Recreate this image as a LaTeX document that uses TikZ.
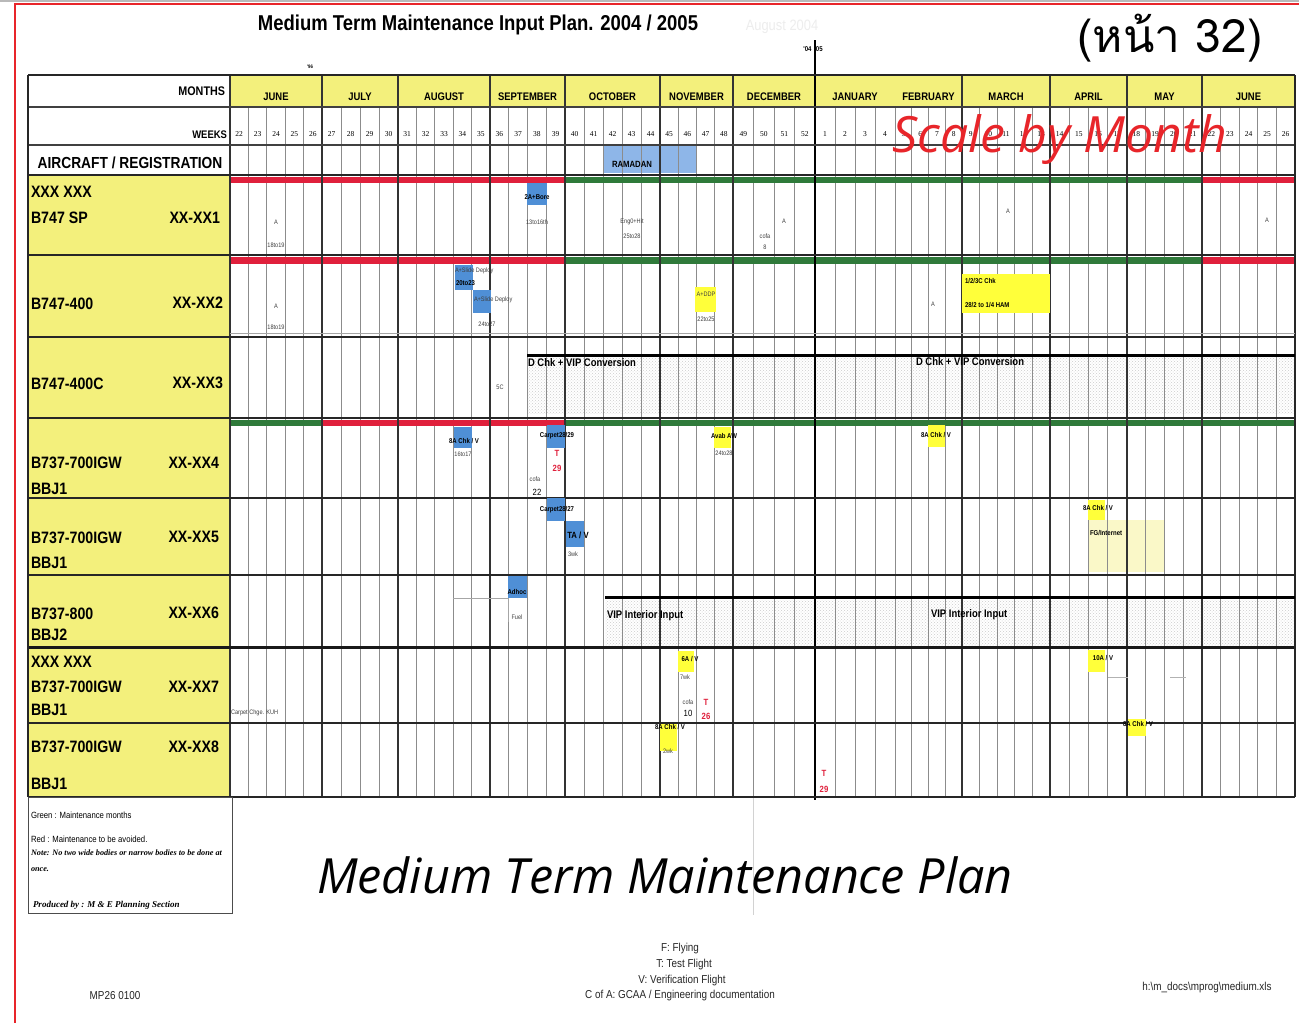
\documentclass[tikz,border=0pt]{standalone}
\usepackage{fontspec}
\setmainfont{Liberation Sans}
\newfontfamily\nar[FakeStretch=0.86]{Liberation Sans}
\newfontfamily\serifw{Liberation Serif}
\newfontfamily\thaifont[Script=Thai]{Loma}
\newfontfamily\osans{Open Sans}
\usetikzlibrary{patterns}
\definecolor{cyel}{HTML}{F3F07C}
\definecolor{cyelb}{HTML}{FFFF3A}
\definecolor{cyell}{HTML}{FAF8C8}
\definecolor{cblue}{HTML}{4F8FD6}
\definecolor{cram}{HTML}{8EB6E8}
\definecolor{cred}{HTML}{E0203C}
\definecolor{cgreen}{HTML}{2F7A3A}
\definecolor{cframe}{HTML}{E8252A}
\definecolor{cgrid}{HTML}{8C8C8C}
\begin{document}
\begin{tikzpicture}[x=1pt,y=-1pt,
  every node/.style={inner sep=0pt, outer sep=0pt},
  wk/.style={font=\serifw\fontsize{7.5}{8}\selectfont},
  mon/.style={font=\nar\bfseries\fontsize{11}{12}\selectfont},
  lab/.style={font=\nar\bfseries\fontsize{16.5}{18}\selectfont, anchor=west},
  reg/.style={font=\nar\bfseries\fontsize{16.5}{18}\selectfont, anchor=east},
  tb/.style={font=\nar\bfseries\fontsize{7}{8}\selectfont},
  tn/.style={font=\nar\fontsize{6.5}{7}\selectfont, text=black!75},
  redt/.style={font=\nar\bfseries\fontsize{9}{10}\selectfont, text=cred},
  bar/.style={font=\nar\bfseries\fontsize{11}{12}\selectfont},
  leg/.style={font=\nar\fontsize{9}{10}\selectfont, anchor=west},
  legi/.style={font=\serifw\bfseries\itshape\fontsize{8.2}{9}\selectfont, anchor=west},
  foot/.style={font=\nar\fontsize{11.5}{12}\selectfont, text=black!85},
  bluebox/.style={fill=cblue},
  ybox/.style={fill=cyelb},
  weekline/.style={draw=cgrid, line width=0.8},
  monline/.style={draw=black!80, line width=1.6},
  rowline/.style={draw=black!85, line width=2.2},
  hdrline/.style={draw=black!75, line width=1.2},
  dotsfill/.style={pattern=crosshatch dots, pattern color=gray!40}
]
\useasboundingbox (0,0) rectangle (1299,1023);
\fill[white] (0,0) rectangle (1299,1023);
% frame
\fill[gray!55] (0,0) rectangle (1299,2);
\draw[cframe, line width=2] (15,1023) -- (15,3.5) -- (1299,3.5);

% titles
\node[font=\nar\bfseries\fontsize{21.5}{24}\selectfont] (title) at (478,25) {Medium Term Maintenance Input Plan. 2004 / 2005};
\node[font=\nar\fontsize{15}{16}\selectfont, text=black!7] (ghost) at (782,27) {August 2004};
\node[font=\thaifont\fontsize{46}{50}\selectfont] (page) at (1170,38) {(หน้า 32)};
\node[font=\nar\bfseries\fontsize{7}{8}\selectfont] (yr) at (813,49) {'04\hspace{3pt}'05};
\node[font=\nar\bfseries\fontsize{5}{6}\selectfont] (t96) at (310,67) {'96};

% fills
\fill[cyel] (230,75) rectangle (1295,107);
\fill[cyel] (28,175) rectangle (230,797);
\fill[cram] (604,145) rectangle (696,173);
\fill[dotsfill] (527,357) rectangle (1295,413);
\fill[dotsfill] (605,600) rectangle (1295,645);
\fill[cyell] (1088,520) rectangle (1165,572);

% weeks and months
\foreach \a/\b/\n/\f/\mname in {230/322/5/22/JUNE, 322/398/4/27/JULY, 398/490/5/31/AUGUST, 490/565/4/36/SEPTEMBER, 565/660/5/40/OCTOBER, 660/733/4/45/NOVEMBER, 733/815/4/49/DECEMBER, 815/895/4/1/JANUARY, 895/962/4/5/FEBRUARY, 962/1050/5/9/MARCH, 1050/1127/4/14/APRIL, 1127/1202/4/18/MAY, 1202/1295/5/22/JUNE}{
  \pgfmathsetmacro\w{(\b-\a)/\n}
  \foreach \k in {1,...,\n}{
    \pgfmathsetmacro\xx{\a+\w*\k}
    \pgfmathsetmacro\xc{\a+\w*(\k-0.5)}
    \pgfmathtruncatemacro\wn{\f+\k-1}
    \draw[weekline] (\xx,107) -- (\xx,797);
    \node[wk] (wk-\a-\k) at (\xc,134) {\wn};
  }
  \node[mon] (mn-\a) at ({(\a+\b)/2},97) {\mname};
}

% colour strips
\fill[cred] (230,177) rectangle (565,183);
\fill[cgreen] (565,177) rectangle (1202,183);
\fill[cred] (1202,177) rectangle (1295,183);
\fill[cred] (230,257) rectangle (565,264);
\fill[cgreen] (565,257) rectangle (1202,264);
\fill[cred] (1202,257) rectangle (1295,264);
\fill[cgreen] (230,420) rectangle (322,426);
\fill[cred] (322,420) rectangle (565,426);
\fill[cgreen] (565,420) rectangle (1295,426);

% month lines
\foreach \x in {230,322,398,490,565,660,733,962,1050,1127,1202}
  \draw[monline] (\x,75) -- (\x,797);
\draw[black, line width=1.8] (815,40) -- (815,800);
\draw[gray!35, line width=0.8] (753,797) -- (753,915);

% row lines
\foreach \y in {175,255,337,418,498,575,723}
  \draw[rowline] (28,\y) -- (1295,\y);
\draw[rowline] (28,75) -- (1295,75);
\draw[hdrline] (28,107) -- (1295,107);
\draw[hdrline] (28,145) -- (1295,145);
\draw[black!90, line width=3] (28,647) -- (1295,647);
\draw[rowline] (28,797) -- (1295,797);
\draw[rowline] (28,75) -- (28,797);
\draw[rowline] (1295,75) -- (1295,797);
\draw[gray!70, line width=0.8] (230,333) -- (1295,333);

% bars
\draw[black, line width=3] (527,355) -- (1295,355);
\draw[black, line width=3] (605,597) -- (1295,597);
\draw[gray!70, line width=1] (453,598) -- (508,598) -- (508,622);
\draw[gray!60, line width=1] (1108,677) -- (1128,677);
\draw[gray!60, line width=1] (1170,677) -- (1186,677);

% header labels
\node[font=\nar\bfseries\fontsize{12.5}{14}\selectfont, anchor=east] (months) at (225,91) {MONTHS};
\node[font=\nar\bfseries\fontsize{11}{12}\selectfont, anchor=east] (weeks) at (227,135) {WEEKS};
\node[font=\nar\bfseries\fontsize{16}{17}\selectfont] (acreg) at (130,163) {AIRCRAFT / REGISTRATION};
\node[font=\nar\bfseries\fontsize{9}{10}\selectfont] (ramadan) at (632,164) {RAMADAN};

% aircraft labels
\node[lab] (r1a) at (31,192) {XXX XXX};
\node[lab] (r1b) at (31,218) {B747 SP};
\node[reg] (r1c) at (220,218) {XX-XX1};
\node[lab] (r2b) at (31,304) {B747-400};
\node[reg] (r2c) at (223,303) {XX-XX2};
\node[lab] (r3b) at (31,384) {B747-400C};
\node[reg] (r3c) at (223,383) {XX-XX3};
\node[lab] (r4b) at (31,463) {B737-700IGW};
\node[reg] (r4c) at (219,463) {XX-XX4};
\node[lab] (r4d) at (31,489) {BBJ1};
\node[lab] (r5b) at (31,538) {B737-700IGW};
\node[reg] (r5c) at (219,537) {XX-XX5};
\node[lab] (r5d) at (31,563) {BBJ1};
\node[lab] (r6b) at (31,614) {B737-800};
\node[reg] (r6c) at (219,613) {XX-XX6};
\node[lab] (r6d) at (31,635) {BBJ2};
\node[lab] (r7a) at (31,662) {XXX XXX};
\node[lab] (r7b) at (31,687) {B737-700IGW};
\node[reg] (r7c) at (219,687) {XX-XX7};
\node[lab] (r7d) at (31,710) {BBJ1};
\node[lab] (r8b) at (31,747) {B737-700IGW};
\node[reg] (r8c) at (219,747) {XX-XX8};
\node[lab] (r8d) at (31,784) {BBJ1};

% row 1
\fill[bluebox] (527,183) rectangle (547,205);
\node[tb] (a1) at (537,197) {2A+Bore};
\node[tn] (a2) at (537,222) {13to16th};
\node[tn] (a3) at (632,222) {Eng0+Hit};
\node[tn] (a4) at (632,236) {25to28};
\node[tn] (a5) at (276,222) {A};
\node[tn] (a6) at (276,245) {18to19};
\node[tn] (a7) at (765,236) {cofa};
\node[tn] (a8) at (765,247) {8};
\node[tn] (a9) at (784,221) {A};
\node[tn] (a10) at (1008,211) {A};
\node[tn] (a11) at (1267,220) {A};

% row 2
\fill[bluebox] (455,265) rectangle (473,290);
\fill[bluebox] (473,290) rectangle (491,313);
\node[tn, anchor=west] (b1) at (455,271) {A+Slide Deploy};
\node[tb, anchor=west] (b2) at (456,283) {20to23};
\node[tn, anchor=west] (b3) at (474,300) {A+Slide Deploy};
\node[tn] (b4) at (487,324) {24to27};
\node[tn] (b5) at (276,306) {A};
\node[tn] (b6) at (276,327) {18to19};
\fill[ybox] (695,287) rectangle (716,312);
\node[tn] (b7) at (706,294) {A+DDP};
\node[tn] (b8) at (706,319) {22to25};
\node[tn] (b9) at (933,304) {A};
\fill[ybox] (962,274) rectangle (1050,313);
\node[tb, anchor=west] (b10) at (965,281) {1/2/3C Chk};
\node[tb, anchor=west] (b11) at (965,305) {28/2 to 1/4 HAM};

% row 3
\node[tn] (c1) at (500,387) {5C};
\node[bar, anchor=west] (c2) at (528,363) {D Chk + VIP Conversion};
\node[bar, anchor=west] (c3) at (916,362) {D Chk + VIP Conversion};

% row 4
\fill[bluebox] (454,427) rectangle (472,448);
\node[tb] (d1) at (464,441) {8A Chk / V};
\node[tn] (d2) at (463,454) {16to17};
\fill[bluebox] (547,425) rectangle (565,448);
\node[tb] (d3) at (557,436) {Carpet28/29};
\node[redt] (d4) at (557,453) {T};
\node[redt] (d5) at (557,468) {29};
\node[tn] (d6) at (535,479) {cofa};
\node[font=\nar\fontsize{9}{10}\selectfont] (d7) at (537,492) {22};
\fill[ybox] (714,427) rectangle (731,448);
\node[tb] (d8) at (724,436) {Avab AW};
\node[tn] (d9) at (724,453) {24to28};
\fill[ybox] (928,425) rectangle (945,447);
\node[tb] (d10) at (936,435) {8A Chk / V};

% row 5
\fill[bluebox] (547,498) rectangle (565,521);
\node[tb] (e1) at (557,510) {Carpet28/27};
\fill[bluebox] (566,521) rectangle (584,547);
\node[font=\nar\bfseries\fontsize{9}{10}\selectfont] (e2) at (578,535) {TA / V};
\node[tn] (e3) at (573,554) {3wk};
\fill[ybox] (1088,500) rectangle (1105,520);
\node[tb] (e4) at (1098,508) {8A Chk / V};
\node[tb, anchor=west] (e5) at (1090,533) {FG/Internet};

% row 6
\fill[bluebox] (508,576) rectangle (527,598);
\node[tb] (f1) at (517,592) {Adhoc};
\node[tn] (f2) at (517,617) {Fuel};
\node[bar, anchor=west] (f3) at (607,616) {VIP Interior Input};
\node[bar, anchor=west] (f4) at (931,615) {VIP Interior Input};

% row 7
\fill[ybox] (678,651) rectangle (694,672);
\node[tb] (g1) at (690,659) {6A / V};
\node[tn] (g2) at (685,677) {7wk};
\node[tn] (g3) at (688,702) {cofa};
\node[font=\nar\fontsize{9}{10}\selectfont] (g4) at (688,713) {10};
\node[redt] (g5) at (706,702) {T};
\node[redt] (g6) at (706,716) {26};
\fill[ybox] (1088,650) rectangle (1105,672);
\node[tb] (g7) at (1103,658) {10A / V};
\node[tn, anchor=west] (g8) at (231,713) {Carpet Chge. KUH};

% row 8
\fill[ybox] (660,724) rectangle (677,751);
\node[tb] (h1) at (670,727) {8A Chk / V};
\node[tn] (h2) at (668,751) {2wk};
\fill[ybox] (1128,719) rectangle (1146,736);
\node[tb] (h3) at (1138,724) {8A Chk / V};
\node[redt] (h4) at (824,773) {T};
\node[redt] (h5) at (824,789) {29};

% legend box
\draw[black!70, line width=1] (28,797) rectangle (232,913);
\node[leg] (l1) at (31,815) {Green : Maintenance months};
\node[leg] (l2) at (31,839) {Red : Maintenance to be avoided.};
\node[legi] (l3) at (31,853) {Note: No two wide bodies or narrow bodies to be done at};
\node[legi] (l4) at (31,870) {once.};
\node[legi, font=\serifw\bfseries\itshape\fontsize{9}{10}\selectfont] (l5) at (33,905) {Produced by : M \& E Planning Section};

% big captions
\node[font=\osans\itshape\fontsize{50}{56}\selectfont, text=cframe] (scale) at (1060,140) {Scale by Month};
\node[font=\osans\itshape\fontsize{48.5}{54}\selectfont] (caption) at (665,875) {Medium Term Maintenance Plan};

% footer
\node[foot] (k1) at (680,949) {F: Flying};
\node[foot] (k2) at (684,965) {T: Test Flight};
\node[foot] (k3) at (682,981) {V: Verification Flight};
\node[foot] (k4) at (680,996) {C of A: GCAA / Engineering documentation};
\node[foot] (k5) at (115,996) {MP26 0100};
\node[foot] (k6) at (1207,988) {h:\textbackslash m\_docs\textbackslash mprog\textbackslash medium.xls};
\end{tikzpicture}
\end{document}
